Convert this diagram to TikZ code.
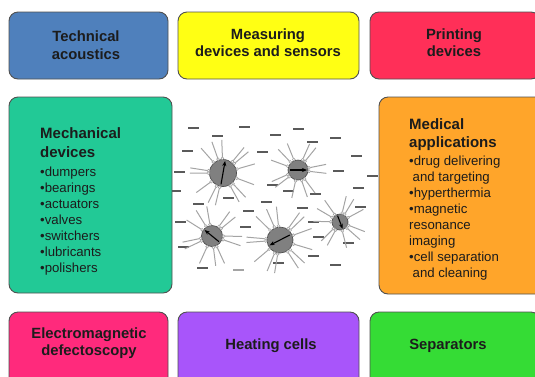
\documentclass[tikz,border=0pt]{standalone}
\usepackage{fontspec}
\setmainfont{Liberation Sans}
\usetikzlibrary{arrows.meta}

\definecolor{acoustic}{HTML}{4F80BC}
\definecolor{measure}{HTML}{FFFF14}
\definecolor{printc}{HTML}{FF2F58}
\definecolor{mech}{HTML}{22C996}
\definecolor{medic}{HTML}{FFA52A}
\definecolor{defect}{HTML}{FF2A7C}
\definecolor{heat}{HTML}{A855FA}
\definecolor{sep}{HTML}{35DC35}
\definecolor{boxline}{HTML}{505050}
\definecolor{ink}{HTML}{1C1C1C}
\definecolor{grainfill}{HTML}{808080}
\definecolor{spikec}{HTML}{A4A4A4}
\definecolor{dashc}{HTML}{5A5A5A}

\begin{document}
\begin{tikzpicture}[x=1pt,y=-1pt,
  appbox/.style={draw=boxline, line width=0.9pt, rounded corners=9pt},
  title/.style={font=\fontsize{14.8}{17.5}\selectfont\bfseries, text=ink, align=center, inner sep=0pt},
  listing/.style={font=\fontsize{13.2}{16}\selectfont, text=ink, align=left, inner sep=0pt, anchor=north west},
  dashmark/.style={draw=dashc, line width=1.3pt},
  grain/.style={draw=boxline, fill=grainfill, line width=0.7pt},
  spike/.style={draw=spikec, line width=1pt},
  spikehead/.style={draw=spikec, fill=white, line width=0.6pt},
  moment/.style={draw=black, line width=1.1pt, -{Stealth[length=5pt,width=4pt]}}]
\useasboundingbox (0,0) rectangle (535,376);

% solvent molecules
\foreach \x/\y in {188/128, 212/136, 239/127, 182/151, 174/172, 170/191,
  257/152, 270/135, 293/129, 307/142, 330/138, 351/156, 333/171, 367/176,
  353/188, 267/185, 310/194, 223/198, 193/204, 243/211, 261/202, 297/208,
  355/207, 175/222, 240/227, 308/222, 313/237, 178/247, 308/256, 273/263,
  197/268, 330/265, 343/243, 283/191}
  \draw[dashmark] (\x,\y) -- ++(11,0);
\draw[dashmark, draw=spikec] (233,270) -- ++(11,0);

% magnetic grains with surfactant shells and moments
\foreach \cx/\cy/\r/\len/\dir/\off/\n in {
    223/173/13.5/17/80/8/14,
    298/170/10/16/0/15/12,
    212/236/10.5/17/141/3/12,
    280/240/13/18/207/12/14,
    340/222/8/16/291/20/11} {
  \draw[grain] (\cx,\cy) circle (\r);
  \foreach \k in {1,...,\n} {
    \pgfmathsetmacro\a{-(\off+360*\k/\n + 9*sin(\k*137))}
    \draw[spike] (\cx,\cy) ++(\a:\r+2.6) -- ++(\a:\len);
    \draw[spikehead] (\cx,\cy) ++(\a:\r+1.2) circle (1.4);
  }
  \pgfmathsetmacro\t{-(\dir+180)}
  \pgfmathsetmacro\h{-\dir}
  \draw[moment] (\cx,\cy) ++(\t:0.85*\r) -- ++(\h:1.75*\r);
}

% application boxes
\draw[appbox, fill=acoustic] (9,12) rectangle (168,79);
\draw[appbox, fill=measure] (178,12) rectangle (359,79);
\draw[appbox, fill=printc] (370,12) rectangle (540,79);
\draw[appbox, fill=mech] (9,97) rectangle (172,293);
\draw[appbox, fill=medic] (379,97) rectangle (545,294);
\draw[appbox, fill=defect] (9,312) rectangle (168,390);
\draw[appbox, fill=heat] (178,312) rectangle (359,390);
\draw[appbox, fill=sep] (370,312) rectangle (540,390);

% labels
\node[title] (acoustics) at (86,45) {Technical\\acoustics};
\node[title] (sensors) at (268,42.5) {Measuring\\devices and sensors};
\node[title] (printing) at (454,42.5) {Printing\\devices};
\node[title] (defecto) at (89,343) {Electromagnetic\\defectoscopy};
\node[title] (heating) at (271,346) {Heating cells};
\node[title] (separators) at (448,346) {Separators};

\node[listing] (mechanical) at (40,127.5) {%
  {\fontsize{15}{17.5}\selectfont\bfseries Mechanical}\\[3pt]
  {\fontsize{15}{17.5}\selectfont\bfseries devices}\\[2.5pt]
  •dumpers\\•bearings\\•actuators\\•valves\\•switchers\\•lubricants\\•polishers};

\node[listing] (medical) at (409,118.5) {%
  {\fontsize{15}{17.5}\selectfont\bfseries Medical}\\[1.5pt]
  {\fontsize{15}{17.5}\selectfont\bfseries applications}\\[2pt]
  •drug delivering\\\hspace*{3.5pt}and targeting\\•hyperthermia\\•magnetic\\
  resonance\\imaging\\•cell separation\\\hspace*{3.5pt}and cleaning};
\end{tikzpicture}
\end{document}
